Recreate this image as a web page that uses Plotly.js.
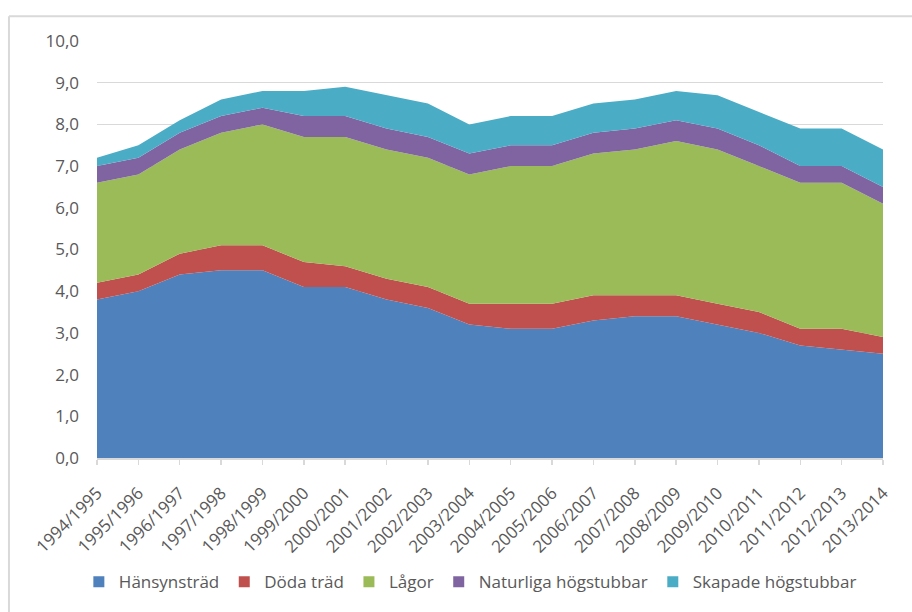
<!DOCTYPE html>
<html>
<head>
<meta charset="utf-8">
<script src="https://cdn.plot.ly/plotly-3.0.1.min.js"></script>
<style>html,body{margin:0;padding:0;background:#fff;}#chart{width:912px;height:612px;}</style>
</head>
<body>
<div id="chart"></div>
<script>
const seasons = ["1994/1995","1995/1996","1996/1997","1997/1998","1998/1999","1999/2000","2000/2001","2001/2002","2002/2003","2003/2004","2004/2005","2005/2006","2006/2007","2007/2008","2008/2009","2009/2010","2010/2011","2011/2012","2012/2013","2013/2014"];
const hansynstrad = [3.8,4.0,4.4,4.5,4.5,4.1,4.1,3.8,3.6,3.2,3.1,3.1,3.3,3.4,3.4,3.2,3.0,2.7,2.6,2.5];
const dodaTrad    = [0.4,0.4,0.5,0.6,0.6,0.6,0.5,0.5,0.5,0.5,0.6,0.6,0.6,0.5,0.5,0.5,0.5,0.4,0.5,0.4];
const lagor       = [2.4,2.4,2.5,2.7,2.9,3.0,3.1,3.1,3.1,3.1,3.3,3.3,3.4,3.5,3.7,3.7,3.5,3.5,3.5,3.2];
const naturliga   = [0.4,0.4,0.4,0.4,0.4,0.5,0.5,0.5,0.5,0.5,0.5,0.5,0.5,0.5,0.5,0.5,0.5,0.4,0.4,0.4];
const skapade     = [0.2,0.3,0.3,0.4,0.4,0.6,0.7,0.8,0.8,0.7,0.7,0.7,0.7,0.7,0.7,0.8,0.8,0.9,0.9,0.9];
const seriesNames = ["Hänsynsträd","Döda träd","Lågor","Naturliga högstubbar","Skapade högstubbar"];
const seriesColors = ["#4f81bd","#c0504d","#9bbb59","#8064a2","#4bacc6"];
const yTicks = [0,1,2,3,4,5,6,7,8,9,10];

const FONT = "'Open Sans', 'Liberation Sans', sans-serif";
const allSeries = [hansynstrad, dodaTrad, lagor, naturliga, skapade];
const traces = [];
allSeries.forEach((vals, i) => {
  traces.push({
    x: seasons, y: vals, type: 'scatter', mode: 'lines',
    stackgroup: 'one', line: {width: 0, color: seriesColors[i]},
    fillcolor: seriesColors[i], name: seriesNames[i], showlegend: false,
    hoverinfo: 'x+y+name'
  });
});
allSeries.forEach((vals, i) => {
  traces.push({
    x: [null], y: [null], type: 'scatter', mode: 'markers',
    marker: {symbol: 'square', size: 11, color: seriesColors[i]},
    name: seriesNames[i], showlegend: true, hoverinfo: 'skip'
  });
});

const frameX0 = -0.112, frameY0 = 1.0595;
const layout = {
  width: 912, height: 612,
  margin: {l: 97, r: 29, t: 41, b: 151},
  paper_bgcolor: '#ffffff', plot_bgcolor: '#ffffff',
  separators: ', ',
  font: {family: FONT, size: 17, color: '#595959'},
  showlegend: true,
  legend: {orientation: 'h', traceorder: 'normal', x: 0.475, xanchor: 'center', y: -0.298, yanchor: 'middle',
           font: {family: FONT, size: 17, color: '#595959'}, itemwidth: 30, tracegroupgap: 0},
  xaxis: {
    type: 'category', range: [0, seasons.length - 1], showgrid: false,
    showline: true, linecolor: '#d9d9d9', linewidth: 1.5,
    ticks: 'outside', ticklen: 5, tickcolor: '#d9d9d9', tickwidth: 1.5,
    tickangle: -45, ticklabelstandoff: 12, automargin: false,
    tickfont: {family: FONT, size: 17, color: '#595959'},
    fixedrange: true
  },
  yaxis: {
    range: [0, 10], tickvals: yTicks, tickformat: '.1f',
    showgrid: true, gridcolor: '#d9d9d9', gridwidth: 1.5, zeroline: false,
    showline: false, ticks: '', ticklabelstandoff: 17, automargin: false,
    tickfont: {family: FONT, size: 17, color: '#595959'}, fixedrange: true
  },
  shapes: [
    {type: 'line', xref: 'paper', yref: 'paper', x0: frameX0, x1: 1.1, y0: frameY0, y1: frameY0,
     line: {color: '#d9d9d9', width: 2}},
    {type: 'line', xref: 'paper', yref: 'paper', x0: frameX0, x1: frameX0, y0: frameY0, y1: -0.5,
     line: {color: '#d9d9d9', width: 2}}
  ]
};
Plotly.newPlot('chart', traces, layout, {displayModeBar: false, staticPlot: true});
</script>
</body>
</html>
